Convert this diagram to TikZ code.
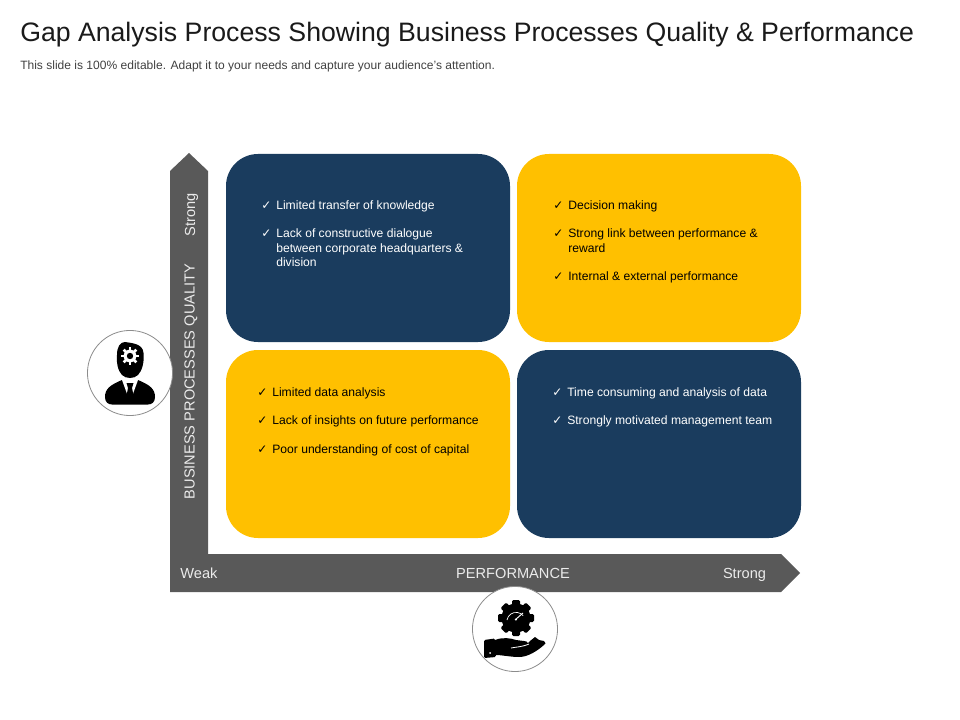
\documentclass[tikz,border=0pt]{standalone}
\usepackage{fontspec}
\setmainfont{Liberation Sans}
\newfontfamily\tickfont{DejaVu Sans}
\definecolor{navy}{HTML}{1A3C5E}
\definecolor{gold}{HTML}{FFC000}
\definecolor{axisgray}{HTML}{595959}
\definecolor{ring}{HTML}{8C8C8C}
\definecolor{titleink}{HTML}{1A1A1A}
\definecolor{subink}{HTML}{404040}
\tikzset{
  x=0.75pt,y=-0.75pt,
  panel/.style={rounded corners=24pt},
  line/.style={anchor=base west,inner sep=0pt,font=\fontsize{9.1}{11}\selectfont},
  onnavy/.style={line,text=white},
  ongold/.style={line,text=black},
  tick/.style={anchor=base west,inner sep=0pt,font=\tickfont\fontsize{9}{11}\selectfont},
  axislabel/.style={anchor=base,inner sep=0pt,text=white!92!black,font=\fontsize{10.95}{13}\selectfont},
  iconring/.style={circle,draw=ring,fill=white,line width=0.6pt,minimum size=63.8pt,inner sep=0pt},
}
\begin{document}
\begin{tikzpicture}
\useasboundingbox (0,0) rectangle (960,720);
\node[anchor=base west,inner sep=0pt,text=titleink,font=\fontsize{20}{24}\selectfont] (title) at (20,42) {Gap Analysis Process Showing Business Processes Quality \& Performance};
\node[anchor=base west,inner sep=0pt,text=subink,font=\fontsize{9.03}{11}\selectfont] (sub) at (20,70) {This slide is 100\% editable. Adapt it to your needs and capture your audience's attention.};

% axes
\fill[axisgray] (189,153) -- (208,171) -- (208,554) -- (781,554) -- (800,573) -- (781,592) -- (170,592) -- (170,171) -- cycle;
\node[axislabel,rotate=90] (yaxis) at (194.5,381.5) {BUSINESS PROCESSES QUALITY};
\node[axislabel,rotate=90] (ystrong) at (195,214.5) {Strong};
\node[axislabel] (weak) at (199,578.5) {Weak};
\node[axislabel] (xaxis) at (513,578.5) {PERFORMANCE};
\node[axislabel] (xstrong) at (744.5,578.5) {Strong};

% panels
\fill[navy,panel] (226,154) rectangle (510,342);
\fill[gold,panel] (517,154) rectangle (801,342);
\fill[gold,panel] (226,350) rectangle (510,538);
\fill[navy,panel] (517,350) rectangle (801,538);

% top left
\node[tick,text=white] (t1) at (261,209.5) {✓};
\node[onnavy] (a1) at (276,210) {Limited transfer of knowledge};
\node[tick,text=white] (t2) at (261,237.5) {✓};
\node[onnavy] (a2) at (276,238) {Lack of constructive dialogue};
\node[onnavy] (a3) at (276,253) {between corporate headquarters \&};
\node[onnavy] (a4) at (276,267) {division};
% top right
\node[tick,text=black] (t3) at (553,209.5) {✓};
\node[ongold] (b1) at (568,210) {Decision making};
\node[tick,text=black] (t4) at (553,237.5) {✓};
\node[ongold] (b2) at (568,238) {Strong link between performance \&};
\node[ongold] (b3) at (568,253) {reward};
\node[tick,text=black] (t5) at (553,281) {✓};
\node[ongold] (b4) at (568,281) {Internal \& external performance};
% bottom left
\node[tick,text=black] (t6) at (257,396) {✓};
\node[ongold] (c1) at (272,396) {Limited data analysis};
\node[tick,text=black] (t7) at (257,424) {✓};
\node[ongold] (c2) at (272,424) {Lack of insights on future performance};
\node[tick,text=black] (t8) at (257,453) {✓};
\node[ongold] (c3) at (272,453) {Poor understanding of cost of capital};
% bottom right
\node[tick,text=white] (t9) at (552,396) {✓};
\node[onnavy] (d1) at (567,396) {Time consuming and analysis of data};
\node[tick,text=white] (t10) at (552,424) {✓};
\node[onnavy] (d2) at (567,424) {Strongly motivated management team};

% left icon
\node[iconring] (manring) at (130,373) {};
\begin{scope}
  \fill[black] (117,355) .. controls (117,347) and (120,342) .. (125,342)
     .. controls (130,343) and (143,343) .. (143.5,353)
     .. controls (144.5,362) and (142,371) .. (138,375)
     .. controls (134,379) and (126,379) .. (122,375)
     .. controls (118,371) and (116,362) .. (117,355) -- cycle;
  \fill[black] (105,397) .. controls (105,389) and (110,385) .. (122,380)
     -- (138,380) .. controls (150,385) and (155,389) .. (155,397)
     .. controls (155,402) and (152,404.5) .. (148,404.5)
     -- (112,404.5) .. controls (108,404.5) and (105,402) .. (105,397) -- cycle;
  \fill[white] (122,380) -- (138,380) -- (130,402) -- cycle;
  \fill[black] (126.5,383) -- (133.5,383) -- (132,388) -- (134,398) -- (130,403) -- (126,398) -- (128,388) -- cycle;
  \foreach \a in {0,45,...,315}
    \fill[white,rotate around={\a:(130,356)}] (128.6,347) rectangle (131.4,351);
  \fill[white] (130,356) circle[radius=6.4];
  \fill[black] (130,356) circle[radius=3.2];
\end{scope}

% bottom icon
\node[iconring] (handring) at (515,629) {};
\begin{scope}
  \foreach \a in {0,45,...,315}
    \fill[black,rounded corners=1pt,rotate around={\a:(516,618)}] (512,600) rectangle (520,606);
  \fill[black] (516,618) circle[radius=14.5];
  \draw[white,line width=0.5pt] (507,620) arc[start angle=190,end angle=320,radius=9.2];
  \draw[white,line width=0.7pt] (515,620) -- (523,613);
  \fill[white] (516,619.5) circle[radius=1.2];
  % hand
  \fill[black,rounded corners=1pt] (484,640) -- (495,638.5) -- (496,657) -- (484,658) -- cycle;
  \fill[black] (495,640) .. controls (503,637) and (510,638) .. (516,640)
     -- (524,641) .. controls (528,641) and (529,644) .. (526,645)
     -- (530,641) -- (535,637) -- (539,640) -- (544,641)
     .. controls (546,643) and (546,644) .. (544,645)
     .. controls (537,651) and (528,657) .. (519,657)
     .. controls (510,657) and (503,655) .. (495,655) -- cycle;
  \draw[white,line width=0.6pt] (511,648) .. controls (516,647) and (522,647) .. (529,644);
  \fill[white] (490,653) circle[radius=1];
\end{scope}
\end{tikzpicture}
\end{document}
